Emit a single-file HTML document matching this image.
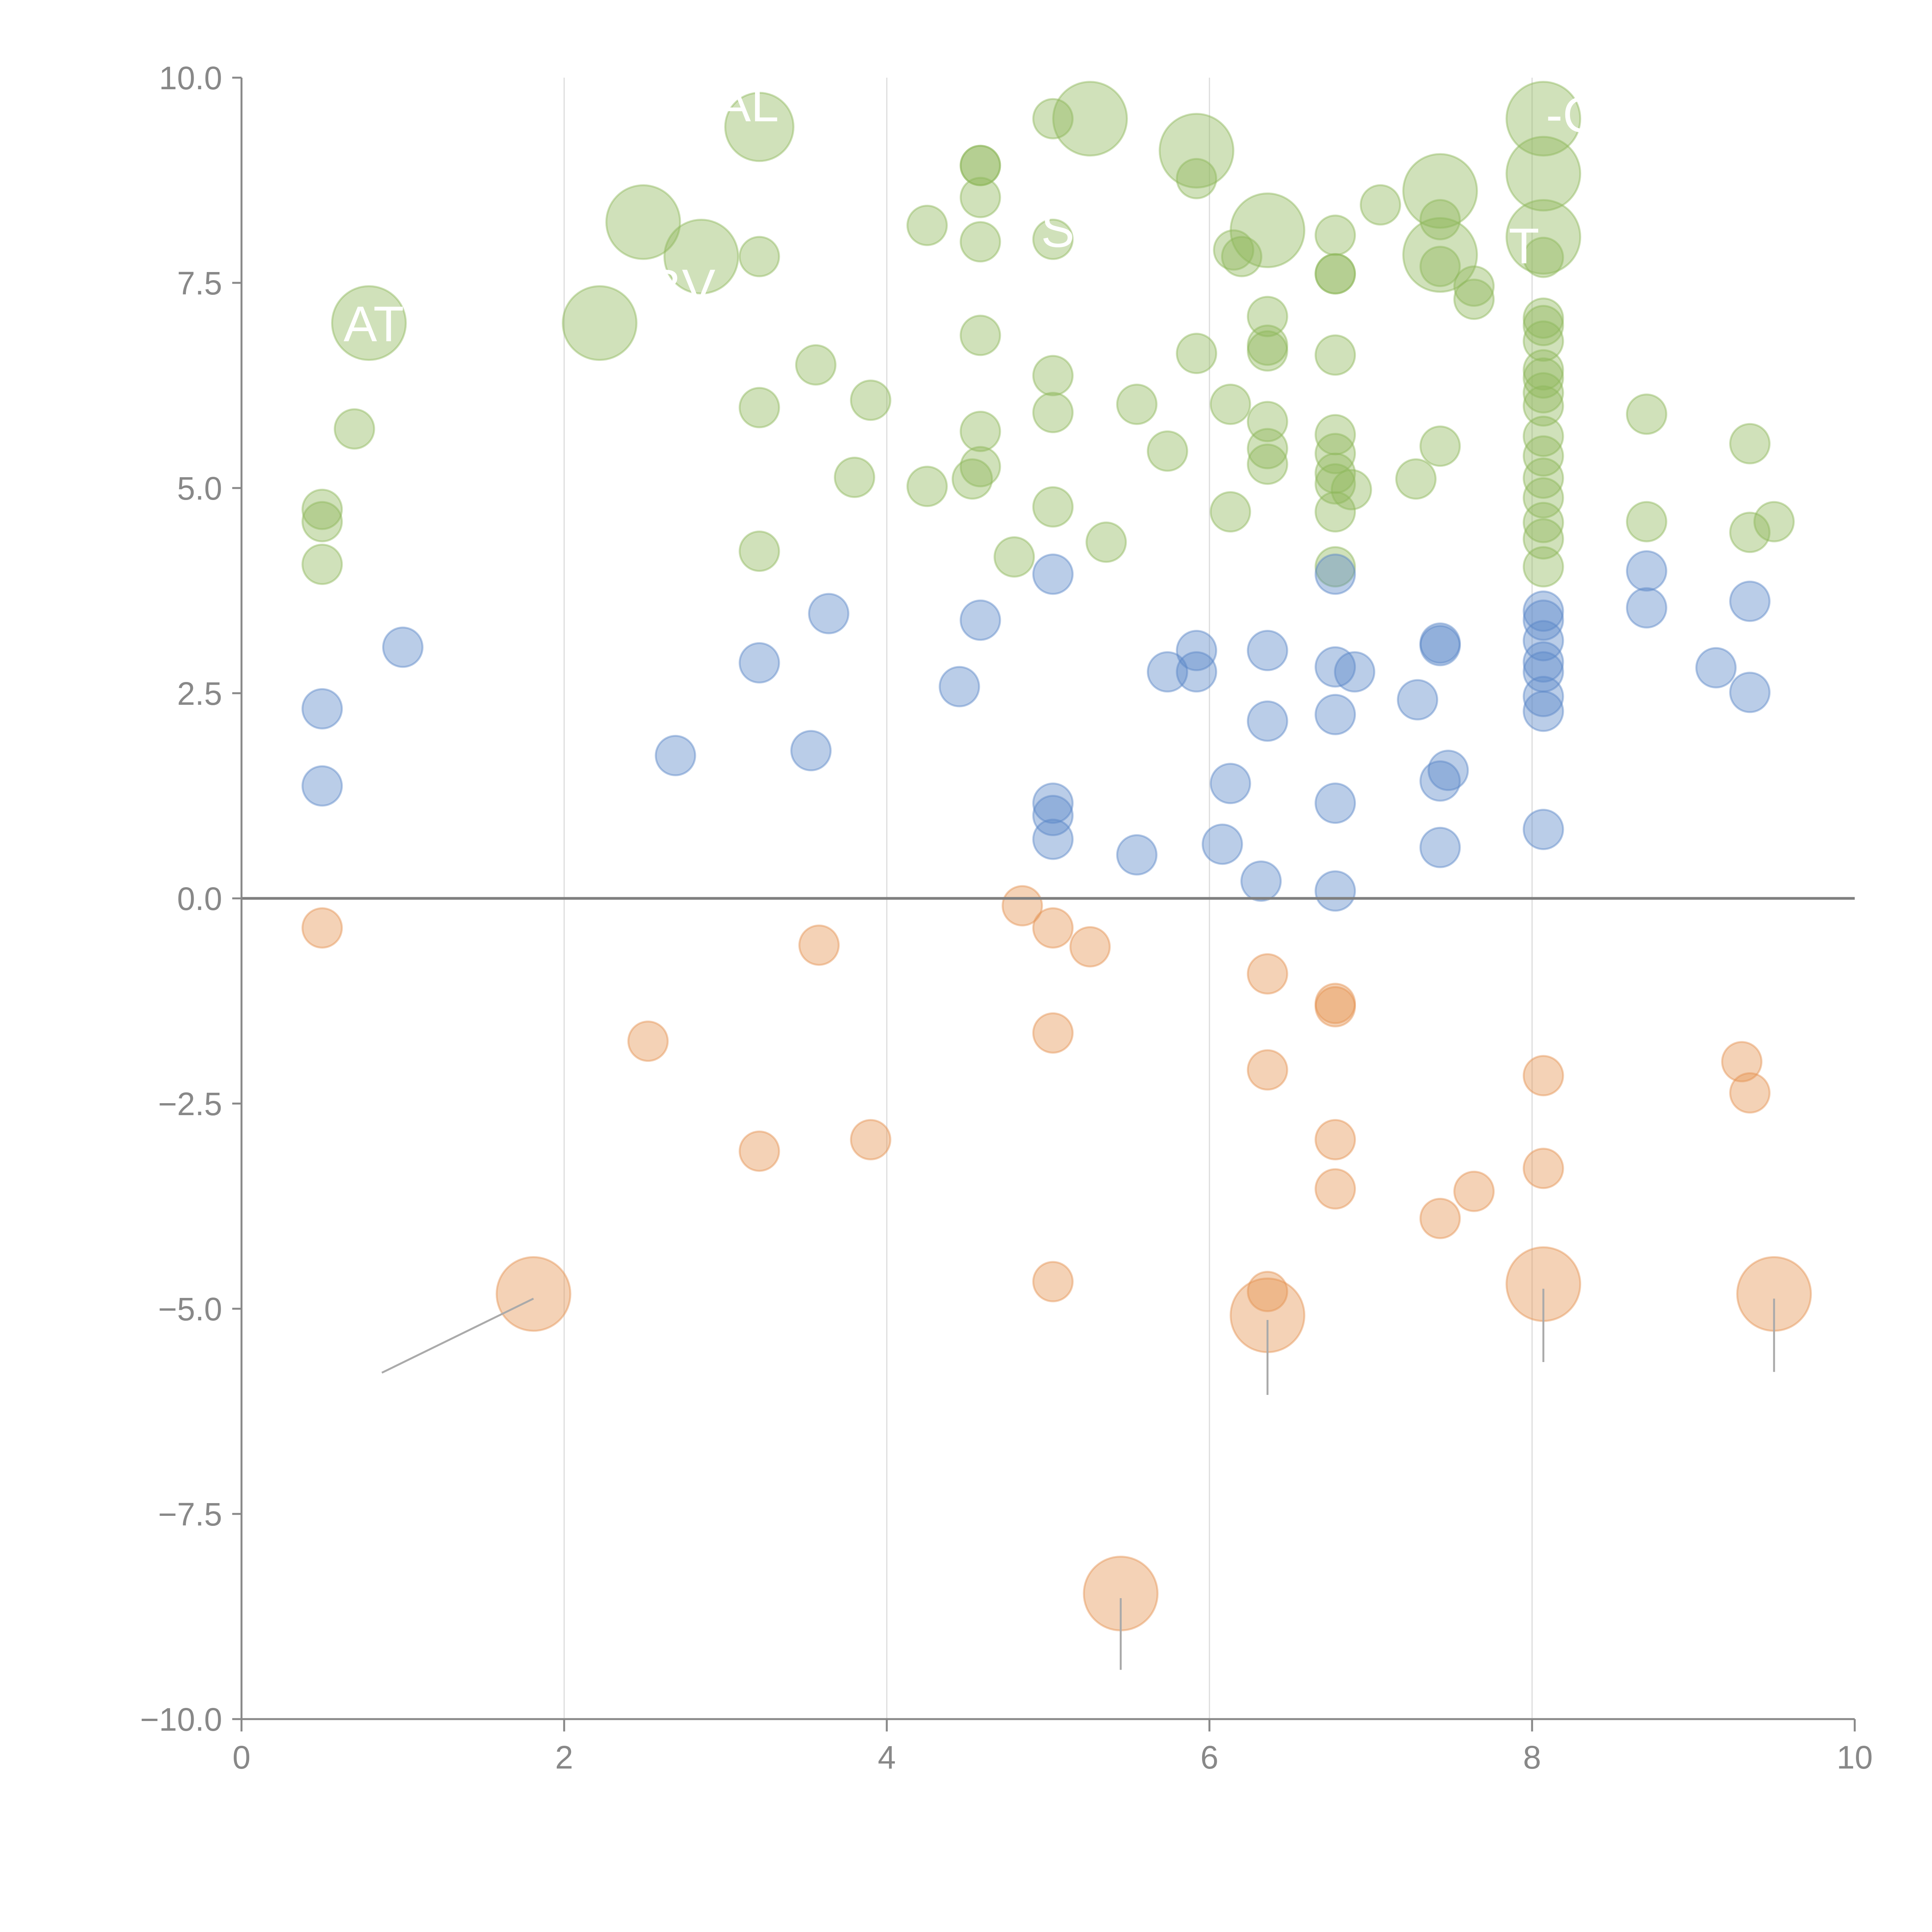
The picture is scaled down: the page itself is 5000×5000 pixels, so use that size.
<!DOCTYPE html>
<html><head><meta charset="utf-8"><style>
html,body{margin:0;padding:0;background:#fff;}
svg{display:block;font-family:"Liberation Sans",Arial,sans-serif;}
</style></head>
<body>
<svg id="chart" width="5000" height="5000" viewBox="0 0 5000 5000" xmlns="http://www.w3.org/2000/svg">
<rect width="5000" height="5000" fill="#fff"/>
<g id="grid"></g>
<g id="marks"></g>
<g id="axes"></g>
</svg>
<script>
const xTicks = [0, 2, 4, 6, 8, 10];
const yTicks = [-10, -7.5, -5, -2.5, 0, 2.5, 5, 7.5, 10];
const yTickLabels = ["\u221210.0", "\u22127.5", "\u22125.0", "\u22122.5", "0.0", "2.5", "5.0", "7.5", "10.0"];

const greenX = [0.50,0.50,0.50,0.70,0.79,2.22,2.49,2.85,3.21,3.21,3.21,3.21,3.56,3.80,3.90,4.25,4.25,4.53,4.58,4.58,4.58,4.58,4.58,4.58,4.58,4.79,5.03,5.03,5.03,5.03,5.03,5.26,5.36,5.55,5.74,5.92,5.92,5.92,6.13,6.13,6.15,6.20,6.36,6.36,6.36,6.36,6.36,6.36,6.36,6.78,6.78,6.78,6.78,6.78,6.78,6.78,6.78,6.78,6.78,6.88,7.06,7.28,7.43,7.43,7.43,7.43,7.43,7.64,7.64,8.07,8.07,8.07,8.07,8.07,8.07,8.07,8.07,8.07,8.07,8.07,8.07,8.07,8.07,8.07,8.07,8.07,8.07,8.71,8.71,9.35,9.35,9.50];
const greenY = [4.74,4.59,4.07,5.72,7.01,7.01,8.24,7.82,7.82,5.98,4.23,9.40,6.50,5.13,6.07,8.20,5.02,5.11,8.93,8.93,8.54,8.00,6.86,5.69,5.26,4.16,9.50,8.03,6.37,5.92,4.77,9.50,4.34,6.02,5.45,9.11,8.77,6.64,4.71,6.02,7.90,7.82,8.14,7.09,6.74,6.67,5.81,5.48,5.29,8.08,7.61,7.61,6.62,5.65,5.42,5.18,5.05,4.71,4.04,4.98,8.45,5.11,8.62,8.27,7.84,7.70,5.51,7.46,7.30,9.50,8.83,8.06,7.81,7.07,6.98,6.79,6.44,6.34,6.16,6.00,5.63,5.39,5.12,4.88,4.58,4.38,4.04,5.90,4.59,5.54,4.46,4.59];
const greenSize = [1,1,1,1,3.5,3.5,3.5,3.5,1,1,1,3,1,1,1,1,1,1,1,1,1,1,1,1,1,1,1,1,1,1,1,3.5,1,1,1,3.5,1,1,1,1,1,1,3.5,1,1,1,1,1,1,1,1,1,1,1,1,1,1,1,1,1,1,1,3.5,1,3.5,1,1,1,1,3.5,3.5,3.5,1,1,1,1,1,1,1,1,1,1,1,1,1,1,1,1,1,1,1,1];

const blueX = [0.50,0.50,1.00,2.69,3.21,3.53,3.64,4.45,4.58,5.03,5.03,5.03,5.03,5.55,5.74,5.92,5.92,6.08,6.13,6.32,6.36,6.36,6.78,6.78,6.78,6.78,6.78,6.90,7.29,7.43,7.43,7.43,7.43,7.48,8.07,8.07,8.07,8.07,8.07,8.07,8.07,8.07,8.71,8.71,9.14,9.35,9.35];
const blueY = [2.31,1.37,3.06,1.74,2.87,1.80,3.47,2.58,3.39,3.95,1.16,1.01,0.72,0.53,2.76,3.02,2.76,0.66,1.40,0.21,3.02,2.16,3.95,2.82,2.24,1.16,0.09,2.76,2.42,3.11,3.08,1.43,0.62,1.56,3.50,3.39,3.14,2.88,2.76,2.46,2.28,0.84,3.99,3.54,2.81,3.62,2.51];

const orangeX = [0.50,1.81,2.52,3.21,3.58,3.90,4.84,5.03,5.03,5.03,5.26,5.45,6.36,6.36,6.36,6.36,6.78,6.78,6.78,6.78,7.43,7.64,8.07,8.07,8.07,9.30,9.35,9.50];
const orangeY = [-0.36,-4.82,-1.74,-3.08,-0.57,-2.94,-0.09,-0.36,-1.64,-4.67,-0.59,-8.47,-0.92,-2.09,-4.79,-5.08,-1.28,-1.32,-2.94,-3.54,-3.90,-3.57,-2.16,-3.29,-4.70,-1.99,-2.37,-4.82];
const orangeSize = [1,3.5,1,1,1,1,1,1,1,1,1,3.5,1,1,1,3.5,1,1,1,1,1,1,1,1,3.5,1,1,3.5];

const leaderFromX = [1.81,5.45,6.36,8.07,9.50];
const leaderFromY = [-4.82,-8.47,-5.08,-4.70,-4.82];
const leaderToX = [0.87,5.45,6.36,8.07,9.50];
const leaderToY = [-5.78,-9.40,-6.05,-5.65,-5.77];

const labelText = ["AT","|AL","-C","S","BV","T"];
const labelX = [0.82,3.10,8.25,5.06,2.73,7.95];
const labelY = [6.95,9.63,9.50,8.10,7.40,7.90];

const NS = "http://www.w3.org/2000/svg";
const X0 = 625, X1 = 4800, Y0 = 4449, Y1 = 201;
function sx(v){ return X0 + (v - 0) / 10 * (X1 - X0); }
function sy(v){ return Y0 - (v + 10) / 20 * (Y0 - Y1); }
function mk(tag, attrs, parent){
  const e = document.createElementNS(NS, tag);
  for (const k in attrs) e.setAttribute(k, attrs[k]);
  parent.appendChild(e);
  return e;
}
const grid = document.getElementById('grid');
const marks = document.getElementById('marks');
const axes = document.getElementById('axes');

xTicks.forEach(function(t){
  if (t === 0 || t === 10) return;
  const l = mk('line', {x1: sx(t), x2: sx(t), y1: Y1, y2: Y0, stroke: '#dcdcdc', 'stroke-width': 3}, grid);
  
  
});

function drawSeries(xs, ys, sizes, color, name){
  xs.forEach(function(xv, i){
    const s = sizes ? sizes[i] : 1;
    const c = mk('circle', {cx: sx(xv), cy: sy(ys[i]), r: 51 * Math.sqrt(s), fill: color, 'fill-opacity': 0.42, stroke: color, 'stroke-opacity': 0.45, 'stroke-width': 5}, marks);
    
    
  });
}
drawSeries(greenX, greenY, greenSize, '#8fb85a', 'green-bubble');
drawSeries(blueX, blueY, null, '#5b87c8', 'blue-bubble');
drawSeries(orangeX, orangeY, orangeSize, '#e49352', 'orange-bubble');

leaderFromX.forEach(function(xv, i){
  const l = mk('line', {x1: sx(xv), y1: sy(leaderFromY[i]) + 12, x2: sx(leaderToX[i]), y2: sy(leaderToY[i]), stroke: '#aaaaaa', 'stroke-width': 5}, marks);
  
  
});

labelText.forEach(function(t, i){
  const tx = mk('text', {x: sx(labelX[i]), y: sy(labelY[i]), fill: '#ffffff', 'font-size': 130, 'text-anchor': 'middle', 'dominant-baseline': 'middle'}, marks);
  tx.textContent = t;
  
  
});

// zero line
const z = mk('line', {x1: X0, x2: X1, y1: sy(0), y2: sy(0), stroke: '#7f7f7f', 'stroke-width': 7}, axes);



const ya = mk('line', {x1: X0, x2: X0, y1: Y1, y2: Y0, stroke: '#888', 'stroke-width': 5}, axes);


const xa = mk('line', {x1: X0, x2: X1, y1: Y0, y2: Y0, stroke: '#888', 'stroke-width': 5}, axes);



yTicks.forEach(function(t, i){
  const tk = mk('line', {x1: X0 - 24, x2: X0, y1: sy(t), y2: sy(t), stroke: '#888', 'stroke-width': 5}, axes);
  
  
  const tx = mk('text', {x: X0 - 50, y: sy(t) + 30, fill: '#888', 'font-size': 84, 'text-anchor': 'end'}, axes);
  tx.textContent = yTickLabels[i];
  
  
});
xTicks.forEach(function(t){
  const tk = mk('line', {x1: sx(t), x2: sx(t), y1: Y0, y2: Y0 + 32, stroke: '#888', 'stroke-width': 5}, axes);
  
  
  const tx = mk('text', {x: sx(t), y: Y0 + 128, fill: '#888', 'font-size': 84, 'text-anchor': 'middle'}, axes);
  tx.textContent = String(t);
  
  
});
</script>
</body></html>
